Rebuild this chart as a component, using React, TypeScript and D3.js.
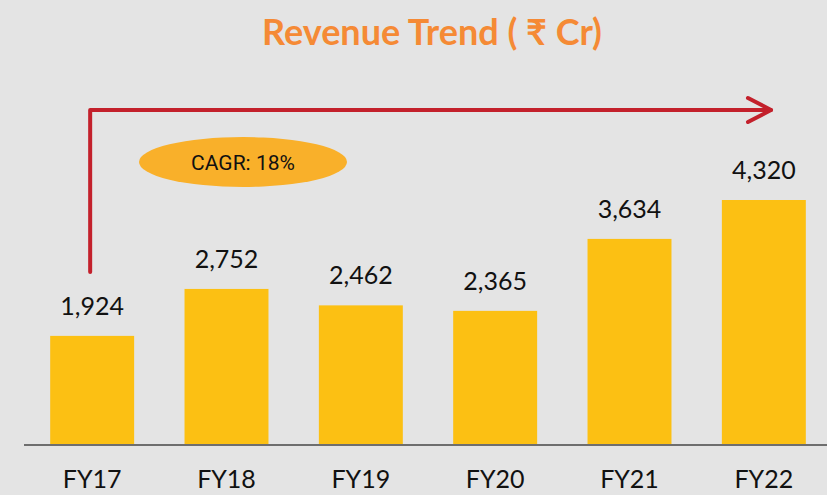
import React from "react";
import * as d3 from "d3";

const categories = ["FY17", "FY18", "FY19", "FY20", "FY21", "FY22"];
const revenue = [1924, 2752, 2462, 2365, 3634, 4320];
const titleText = "Revenue Trend ( \u20B9 Cr)";
const cagrLabel = "CAGR: 18%";

const W = 827;
const H = 495;
const baseY = 445;

export default function App() {
  const x = d3
    .scaleBand<string>()
    .domain(categories)
    .range([25, 831])
    .paddingInner(0.375)
    .paddingOuter(0.1875);
  const y = d3.scaleLinear().domain([0, 4320]).range([baseY, 200]);
  const fmt = d3.format(",");

  const arrowStartX = (x("FY17") as number) + x.bandwidth() / 2 - 2;
  const arrowY = 110;
  const arrowEndX = 771;

  return (
    <svg
      width={W}
      height={H}
      style={{ position: "absolute", left: 0, top: 0, display: "block" }}
    >
      <rect width={W} height={H} fill="#e4e4e4" />
      <text
        x={432}
        y={45}
        textAnchor="middle"
        fontFamily="Lato, 'Noto Sans', sans-serif"
        fontWeight={700}
        fontSize={36}
        fill="#f58a35"
      >
        {titleText}
      </text>

      {categories.map((c, i) => (
        <g key={c}>
          <rect
            x={x(c)}
            y={y(revenue[i])}
            width={x.bandwidth()}
            height={baseY - y(revenue[i])}
            fill="#fcc013"
          />
          <text
            x={(x(c) as number) + x.bandwidth() / 2}
            y={y(revenue[i]) - 21}
            textAnchor="middle"
            fontFamily="Lato, sans-serif"
            fontSize={25}
            fill="#111"
          >
            {fmt(revenue[i])}
          </text>
          <text
            x={(x(c) as number) + x.bandwidth() / 2}
            y={488}
            textAnchor="middle"
            fontFamily="Lato, sans-serif"
            fontSize={25}
            fill="#111"
          >
            {c}
          </text>
        </g>
      ))}

      <line x1={24} x2={W} y1={baseY} y2={baseY} stroke="#6e6e6e" strokeWidth={2} />

      <path
        d={`M${arrowStartX},272 L${arrowStartX},${arrowY} L${arrowEndX},${arrowY}`}
        fill="none"
        stroke="#c3202b"
        strokeWidth={4}
        strokeLinejoin="round"
        strokeLinecap="round"
      />
      <path
        d={`M${arrowEndX - 23},${arrowY - 12} L${arrowEndX},${arrowY} L${arrowEndX - 23},${arrowY + 12}`}
        fill="none"
        stroke="#c3202b"
        strokeWidth={4}
        strokeLinejoin="round"
        strokeLinecap="round"
      />

      <ellipse cx={243} cy={162} rx={104} ry={25} fill="#f9b02a" />
      <text
        x={243}
        y={170}
        textAnchor="middle"
        fontFamily="Roboto, sans-serif"
        fontSize={21}
        fill="#111"
      >
        {cagrLabel}
      </text>
    </svg>
  );
}
